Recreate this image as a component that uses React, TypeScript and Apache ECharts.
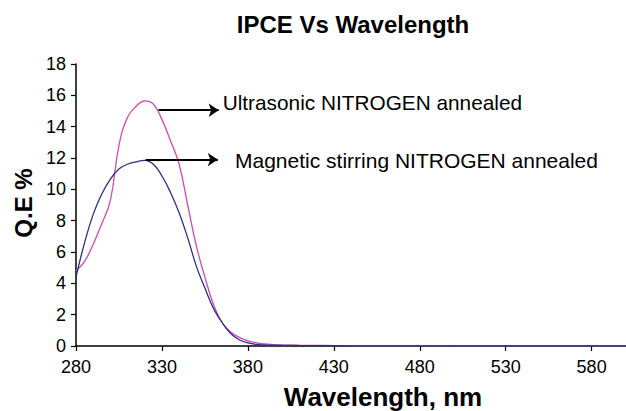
import React, { useEffect, useRef } from "react";
import * as echarts from "echarts";

const wavelengths = [280, 285, 290, 295, 300, 305, 310, 315, 320, 325, 330, 335, 340, 345, 350, 355, 360, 365, 370, 375, 380, 385, 390, 395, 400, 410, 420, 430, 440, 460, 480, 500, 520, 540, 560, 580, 600];
const ultrasonic = [4.8, 5.4, 6.5, 7.8, 9.3, 12.8, 14.6, 15.3, 15.65, 15.45, 14.45, 13.1, 11.6, 9.0, 6.4, 4.4, 2.65, 1.5, 0.9, 0.55, 0.33, 0.2, 0.13, 0.09, 0.07, 0.05, 0.04, 0.03, 0.02, 0.02, 0.02, 0.01, 0.01, 0.01, 0.01, 0.01, 0.01];
const magnetic = [4.4, 6.6, 8.4, 9.7, 10.65, 11.3, 11.6, 11.75, 11.85, 11.6, 10.85, 9.8, 8.5, 6.9, 5.1, 3.7, 2.4, 1.5, 0.8, 0.4, 0.2, 0.1, 0.07, 0.05, 0.04, 0.03, 0.02, 0.02, 0.01, 0.01, 0.01, 0.01, 0.01, 0.01, 0.01, 0.01, 0.01];
const seriesNames = ["Ultrasonic NITROGEN annealed", "Magnetic stirring NITROGEN annealed"];
const arrowStarts = [[328, 15.05], [320.6, 11.9]];
const arrowEnds = [363, 362.5];

const FONT = "'Liberation Sans', Arial, sans-serif";

export default function App() {
  const ref = useRef<HTMLDivElement>(null);
  useEffect(() => {
    if (!ref.current) return;
    const chart = echarts.init(ref.current, null, { renderer: "svg" });
    const mk = (i: number) => ({
      silent: true,
      symbol: ["none", "arrow"],
      symbolSize: [10, 10],
      lineStyle: { color: "#000", width: 2, type: "solid" },
      label: { show: false },
      data: [[
        { coord: [arrowStarts[i][0], arrowStarts[i][1]], symbol: "none" },
        { coord: [arrowEnds[i], arrowStarts[i][1]], symbol: "arrow" },
      ]],
    });
    chart.setOption({
      animation: false,
      backgroundColor: "#fff",
      grid: { left: 76, right: -2, top: 64, bottom: 65, containLabel: false },
      xAxis: {
        type: "value",
        min: 280,
        max: 600,
        interval: 50,
        axisLine: { lineStyle: { color: "#000", width: 1.5 } },
        axisTick: { show: true, length: 5, lineStyle: { color: "#000", width: 1.2 } },
        axisLabel: { color: "#000", fontSize: 18, fontFamily: FONT, margin: 12, showMaxLabel: false },
        splitLine: { show: false },
      },
      yAxis: {
        type: "value",
        min: 0,
        max: 18,
        interval: 2,
        axisLine: { show: true, lineStyle: { color: "#000", width: 1.5 } },
        axisTick: { show: true, length: 5, lineStyle: { color: "#000", width: 1.2 } },
        axisLabel: { color: "#000", fontSize: 18, fontFamily: FONT, margin: 10 },
        splitLine: { show: false },
      },
      series: [
        {
          name: seriesNames[0],
          type: "line",
          data: wavelengths.map((w, i) => [w, ultrasonic[i]]),
          smooth: 0.45,
          showSymbol: false,
          lineStyle: { color: "#D04AB4", width: 1.3 },
          itemStyle: { color: "#D04AB4" },
          markLine: mk(0),
        },
        {
          name: seriesNames[1],
          type: "line",
          data: wavelengths.map((w, i) => [w, magnetic[i]]),
          smooth: 0.45,
          showSymbol: false,
          lineStyle: { color: "#2E2E8E", width: 1.3 },
          itemStyle: { color: "#2E2E8E" },
          markLine: mk(1),
        },
      ],
      graphic: [
        { type: "text", x: 353, y: 24, style: { text: "IPCE Vs Wavelength", font: `bold 24px ${FONT}`, fill: "#000", textAlign: "center", textVerticalAlign: "middle" } },
        { type: "text", x: 23, y: 203, rotation: Math.PI / 2, style: { text: "Q.E %", font: `bold 24px ${FONT}`, fill: "#000", textAlign: "center", textVerticalAlign: "middle" } },
        { type: "text", x: 383, y: 397, style: { text: "Wavelength, nm", font: `bold 26px ${FONT}`, fill: "#000", textAlign: "center", textVerticalAlign: "middle" } },
        { type: "text", x: 222.7, y: 102, style: { text: seriesNames[0], font: `20.8px ${FONT}`, fill: "#000", textAlign: "left", textVerticalAlign: "middle" } },
        { type: "text", x: 235, y: 160, style: { text: seriesNames[1], font: `21px ${FONT}`, fill: "#000", textAlign: "left", textVerticalAlign: "middle" } },
      ],
    });
    return () => chart.dispose();
  }, []);
  return <div ref={ref} style={{ position: "fixed", left: 0, top: 0, width: 626, height: 411 }} />;
}
